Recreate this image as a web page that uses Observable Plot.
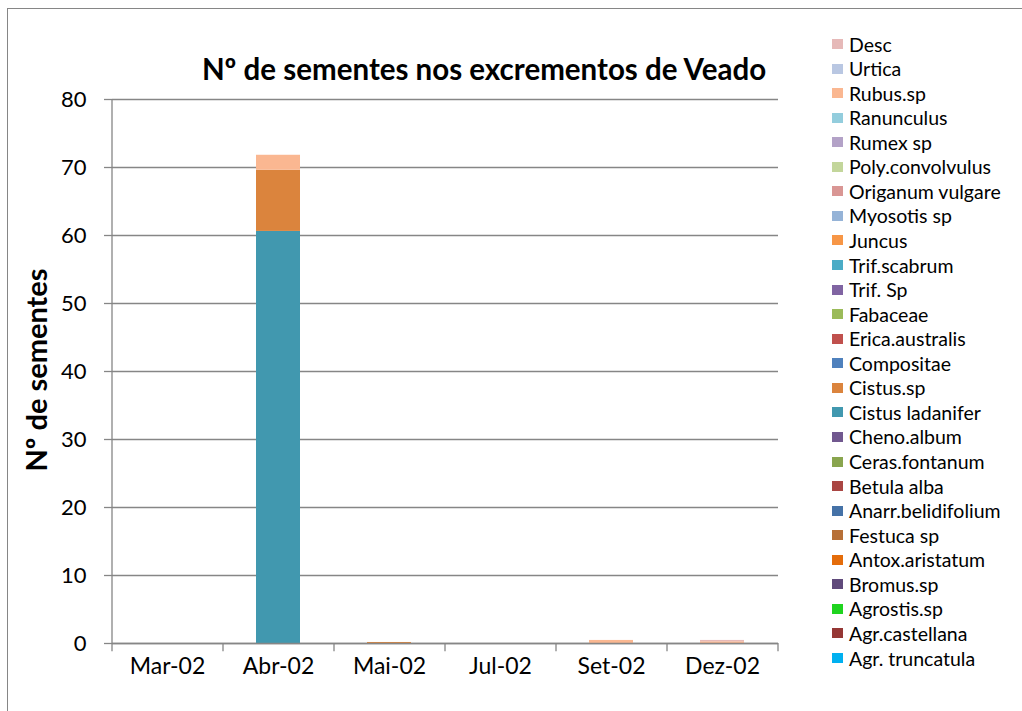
<!DOCTYPE html>
<html>
<head>
<meta charset="utf-8">
<script src="https://cdn.jsdelivr.net/npm/d3@7"></script>
<script src="https://cdn.jsdelivr.net/npm/@observablehq/plot@0.6"></script>
<style>
  html, body { margin: 0; padding: 0; background: #fff; }
  body { width: 1022px; height: 711px; position: relative; overflow: hidden; font-family: Lato, "Open Sans", sans-serif; }
  #frame { position: absolute; left: 7px; top: 8px; width: 1020px; height: 720px; border: 1.5px solid #868686; box-sizing: border-box; }
  #chart { position: absolute; left: 0; top: 0; }
  #title { position: absolute; left: 0; width: 968px; top: 51px; text-align: center; font-weight: bold; font-size: 29.5px; color: #000; white-space: nowrap; }
  #ylabel { position: absolute; left: 35px; top: 370px; transform: translate(-50%, -50%) rotate(-90deg); font-weight: bold; font-size: 29px; white-space: nowrap; }
  #legend { position: absolute; left: 832px; top: 32px; }
  .item { position: absolute; left: 0; height: 24px; display: flex; align-items: center; font-size: 19.5px; white-space: nowrap; color: #000; }
  .sw { width: 11px; height: 10px; margin-right: 6px; flex: none; }
</style>
</head>
<body>
<div id="frame"></div>
<div id="chart"></div>
<div id="title">Nº de sementes nos excrementos de Veado</div>
<div id="ylabel">Nº de sementes</div>
<div id="legend"></div>
<script>
// Categories (months)
const months = ["Mar-02", "Abr-02", "Mai-02", "Jul-02", "Set-02", "Dez-02"];

// Species in legend order (top of legend = top of stack)
const species = ["Desc", "Urtica", "Rubus.sp", "Ranunculus", "Rumex sp", "Poly.convolvulus",
  "Origanum vulgare", "Myosotis sp", "Juncus", "Trif.scabrum", "Trif. Sp", "Fabaceae",
  "Erica.australis", "Compositae", "Cistus.sp", "Cistus ladanifer", "Cheno.album",
  "Ceras.fontanum", "Betula alba", "Anarr.belidifolium", "Festuca sp", "Antox.aristatum",
  "Bromus.sp", "Agrostis.sp", "Agr.castellana", "Agr. truncatula"];

const colors = ["#e6b9b8", "#b9c7e2", "#fab791", "#93cddd", "#b3a2c7", "#c3d69b",
  "#d99694", "#95b3d7", "#f79646", "#4bacc6", "#8064a2", "#9bbb59",
  "#c0504d", "#4f81bd", "#db843d", "#4198af", "#71588f",
  "#89a54e", "#aa4643", "#4572a7", "#b77037", "#e46c0a",
  "#604a7b", "#1fd41f", "#953735", "#00b0f0"];

// Non-zero series values per month (all others are 0)
const cistusLadanifer = [0, 60.6, 0, 0, 0, 0];
const cistusSp        = [0, 9.0, 0.15, 0, 0, 0];
const rubusSp         = [0, 2.2, 0, 0, 0.45, 0.25];
const desc            = [0, 0, 0, 0, 0, 0.2];

const seriesValues = {
  "Cistus ladanifer": cistusLadanifer,
  "Cistus.sp": cistusSp,
  "Rubus.sp": rubusSp,
  "Desc": desc
};

const yTicks = [0, 10, 20, 30, 40, 50, 60, 70, 80];

// Build long table: stack order bottom -> top = reverse legend order
const stackOrder = species.slice().reverse();
const data = [];
for (const s of stackOrder) {
  const vals = seriesValues[s] || months.map(() => 0);
  months.forEach((m, i) => data.push({month: m, species: s, value: vals[i]}));
}

const W = 1022, H = 711;
const mL = 112, mR = 244, mT = 99, mB = 68;
const half = (W - mL - mR) / months.length / 2;
const gray = "#868686";

const chart = Plot.plot({
  width: W, height: H,
  marginLeft: mL, marginRight: mR, marginTop: mT, marginBottom: mB,
  style: {fontFamily: "Lato, 'Open Sans', sans-serif", background: "transparent", overflow: "visible"},
  x: {domain: months, paddingInner: 0.6, paddingOuter: 0.3, label: null},
  y: {domain: [0, 80], label: null},
  color: {domain: species, range: colors},
  marks: [
    Plot.gridY(yTicks, {stroke: gray, strokeOpacity: 1, strokeWidth: 1.3}),
    Plot.barY(data, {x: "month", y: "value", fill: "species", order: stackOrder}),
    Plot.ruleY([0], {stroke: gray, strokeWidth: 1.3}),
    Plot.ruleX([months[0]], {y1: -1.2, y2: 80, dx: -half, stroke: gray, strokeWidth: 1.3}),
    Plot.ruleX(months, {y1: -1.2, y2: 0, dx: half, stroke: gray, strokeWidth: 1.3}),
    Plot.axisY(yTicks, {tickSize: 8, tickPadding: 18, fontSize: 22, stroke: gray, strokeWidth: 1.3, color: "#000", label: null}),
    Plot.axisX({tickSize: 0, tickPadding: 14, fontSize: 23, label: null})
  ]
});
chart.querySelectorAll("text").forEach(t => t.setAttribute("fill", "#000"));
document.getElementById("chart").appendChild(chart);

// Legend
const legend = document.getElementById("legend");
const step = 24.56;
species.forEach((s, i) => {
  const it = document.createElement("div");
  it.className = "item";
  it.style.top = (i * step) + "px";
  const sw = document.createElement("span");
  sw.className = "sw";
  sw.style.background = colors[i];
  const tx = document.createElement("span");
  tx.textContent = s;
  it.appendChild(sw);
  it.appendChild(tx);
  legend.appendChild(it);
});
</script>
</body>
</html>
